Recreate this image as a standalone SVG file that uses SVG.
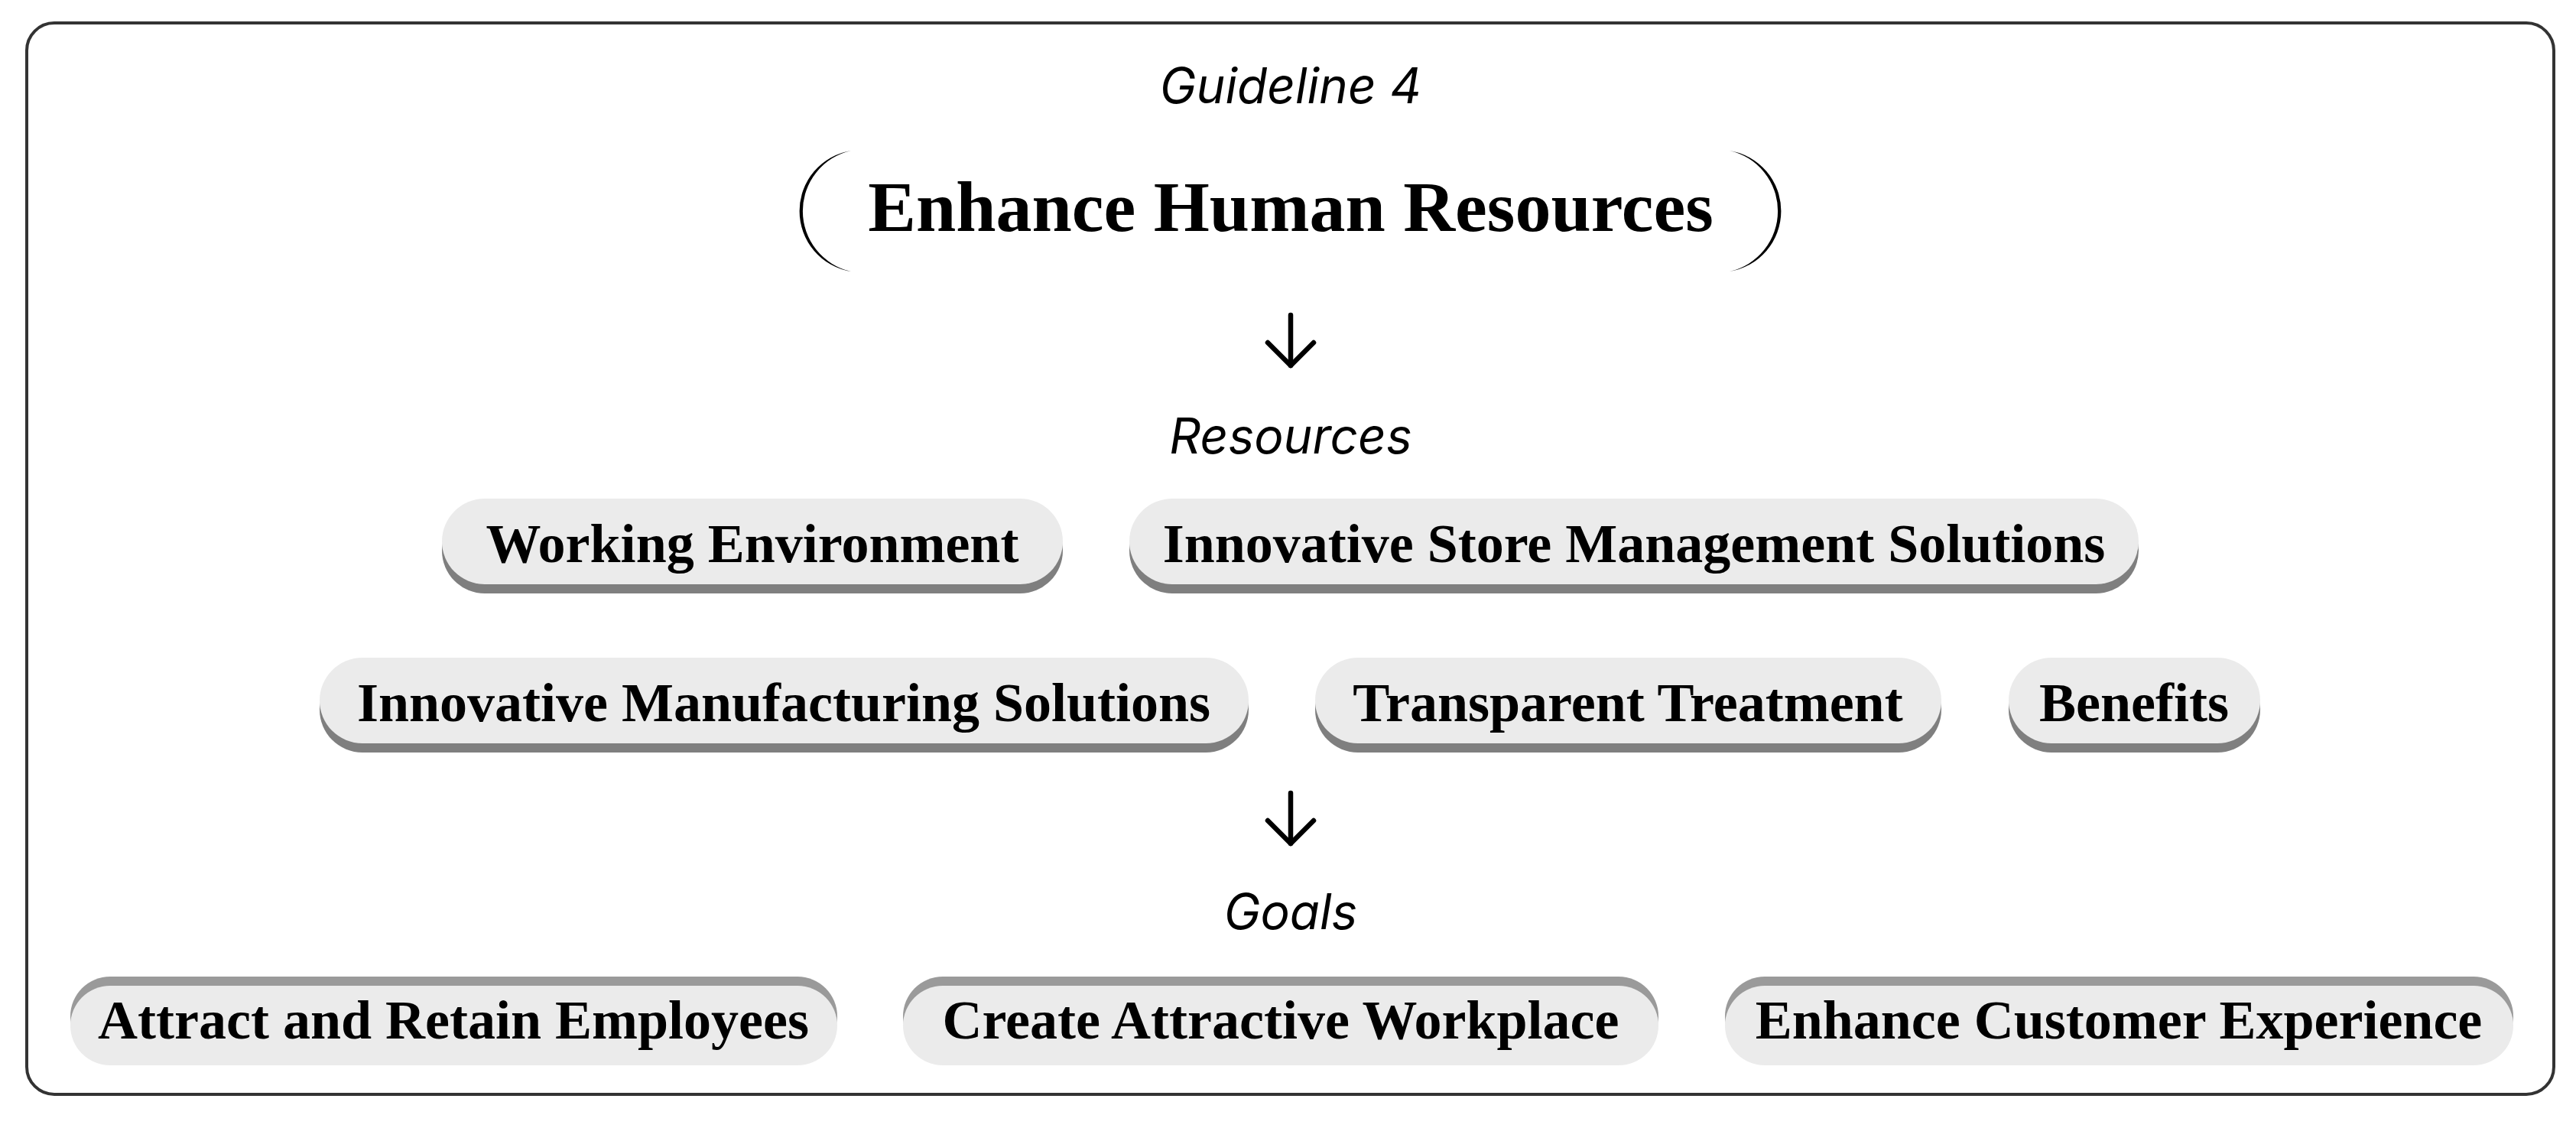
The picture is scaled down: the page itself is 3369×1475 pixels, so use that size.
<svg xmlns="http://www.w3.org/2000/svg" width="3369" height="1475" viewBox="0 0 3369 1475">
  <style>
    .frame { fill: #ffffff; stroke: #333333; stroke-width: 4; }
    .label { font-family: Inter, "Liberation Sans", sans-serif; font-style: italic; font-size: 64px; fill: #000000; text-anchor: middle; }
    .title { font-family: "Liberation Serif", serif; font-weight: bold; font-size: 94px; fill: #000000; text-anchor: middle; }
    .pill { fill: #ebebeb; }
    .shadow-down { fill: #7f7f7f; }
    .shadow-up { fill: #9a9a9a; }
    .ptext { font-family: "Liberation Serif", serif; font-weight: bold; font-size: 72px; fill: #000000; text-anchor: middle; }
    .paren { fill: #000000; }
    .arrow { stroke: #000000; stroke-width: 6.5; fill: none; stroke-linecap: round; stroke-linejoin: round; }
  </style>
  <defs>
    <marker id="chev" markerUnits="userSpaceOnUse" markerWidth="1" markerHeight="1" refX="0" refY="0" orient="auto" overflow="visible">
      <path d="M-30,-30 L0,0 L-30,30" fill="none" stroke="#000000" stroke-width="6.5" stroke-linecap="round" stroke-linejoin="round"/>
    </marker>
  </defs>

  <rect id="frame" class="frame" x="35" y="30" width="3305" height="1401" rx="36" ry="36"/>

  <text id="guideline-label" class="label" x="1688" y="135">Guideline 4</text>

  <g id="title">
    <path class="paren" d="M1113,197 A80,80 0 0 0 1113,355 A81,81 0 0 1 1113,197 Z"/>
    <path class="paren" d="M2262,197 A80,80 0 0 1 2262,355 A81,81 0 0 0 2262,197 Z"/>
    <text class="title" x="1688" y="302">Enhance Human Resources</text>
  </g>

  <g id="connectors">
    <path class="arrow" d="M1688,412 L1688,478" marker-end="url(#chev)"/>
    <path class="arrow" d="M1688,1037 L1688,1103" marker-end="url(#chev)"/>
  </g>

  <text id="resources-label" class="label" x="1688" y="593">Resources</text>

  <g id="res-working-environment">
    <rect class="shadow-down" x="578" y="664" width="812" height="112" rx="56"/>
    <rect class="pill" x="578" y="652" width="812" height="112" rx="56"/>
    <text class="ptext" x="984" y="735">Working Environment</text>
  </g>
  <g id="res-store-management">
    <rect class="shadow-down" x="1477" y="664" width="1320" height="112" rx="56"/>
    <rect class="pill" x="1477" y="652" width="1320" height="112" rx="56"/>
    <text class="ptext" x="2137" y="735">Innovative Store Management Solutions</text>
  </g>
  <g id="res-manufacturing">
    <rect class="shadow-down" x="418" y="872" width="1215" height="112" rx="56"/>
    <rect class="pill" x="418" y="860" width="1215" height="112" rx="56"/>
    <text class="ptext" x="1025" y="943">Innovative Manufacturing Solutions</text>
  </g>
  <g id="res-transparent-treatment">
    <rect class="shadow-down" x="1720" y="872" width="819" height="112" rx="56"/>
    <rect class="pill" x="1720" y="860" width="819" height="112" rx="56"/>
    <text class="ptext" x="2129" y="943">Transparent Treatment</text>
  </g>
  <g id="res-benefits">
    <rect class="shadow-down" x="2627" y="872" width="329" height="112" rx="56"/>
    <rect class="pill" x="2627" y="860" width="329" height="112" rx="56"/>
    <text class="ptext" x="2791" y="943">Benefits</text>
  </g>

  <text id="goals-label" class="label" x="1688" y="1215">Goals</text>

  <g id="goal-attract-retain">
    <rect class="shadow-up" x="92" y="1277" width="1003" height="104" rx="52"/>
    <rect class="pill" x="92" y="1289" width="1003" height="104" rx="52"/>
    <text class="ptext" x="593" y="1358">Attract and Retain Employees</text>
  </g>
  <g id="goal-attractive-workplace">
    <rect class="shadow-up" x="1181" y="1277" width="988" height="104" rx="52"/>
    <rect class="pill" x="1181" y="1289" width="988" height="104" rx="52"/>
    <text class="ptext" x="1675" y="1358">Create Attractive Workplace</text>
  </g>
  <g id="goal-customer-experience">
    <rect class="shadow-up" x="2256" y="1277" width="1031" height="104" rx="52"/>
    <rect class="pill" x="2256" y="1289" width="1031" height="104" rx="52"/>
    <text class="ptext" x="2771" y="1358">Enhance Customer Experience</text>
  </g>
</svg>
